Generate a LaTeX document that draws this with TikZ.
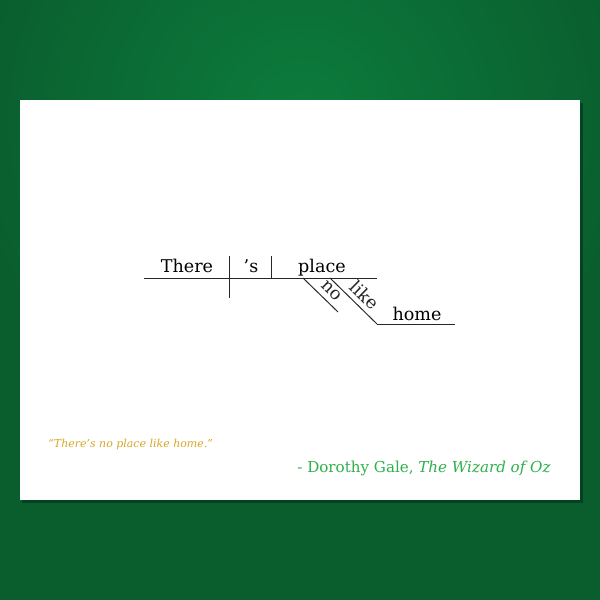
\documentclass[tikz,border=0pt]{standalone}
\usepackage{fontspec}
\setmainfont{DejaVu Serif}
\usetikzlibrary{positioning}

\definecolor{bgdark}{RGB}{10,94,46}
\definecolor{bglight}{RGB}{12,124,60}
\definecolor{quotegold}{RGB}{214,168,40}
\definecolor{authorgreen}{RGB}{46,176,76}

\begin{document}
\begin{tikzpicture}[
      x=0.02cm, y=0.02cm,
      word/.style ={inner sep=0pt, anchor=base, font=\fontsize{10}{12}\selectfont},
      slantword/.style ={inner sep=2.8pt, sloped, font=\fontsize{10}{12}\selectfont},
      rule/.style ={line width=0.55pt, black!85}]
    % background and card
    \useasboundingbox (0,0) rectangle (600,600);
    \begin{scope}
      \clip (0,0) rectangle (600,600);
      \fill[bgdark] (0,0) rectangle (600,600);
      \shade[inner color=bglight, outer color=bgdark] (300,480) circle [radius=330];
    \end{scope}
    \fill[black, opacity=0.3] (22,97) rectangle (583,497);
    \fill[white] (20,100) rectangle (580,500);

    % base line and dividers
    \coordinate (base west) at (144,322);
    \coordinate (base east) at (377,322);
    \coordinate (subj top) at (229,344);
    \coordinate (subj bottom) at (229,302);
    \coordinate (verb top) at (271,344);
    \coordinate (verb bottom) at (271,322);
    \draw[rule] (base west) -- (base east);
    \draw[rule] (subj top) -- (subj bottom);
    \draw[rule] (verb top) -- (verb bottom);

    \node[word] (there) at (187,328) {There};
    \node[word] (is) at (251,328) {’s};
    \node[word] (place) at (322,328) {place};

    % modifiers
    \coordinate (no start) at (303,322);
    \coordinate (no end) at (338,288);
    \coordinate (like start) at (330,322);
    \coordinate (like end) at (377,276);
    \coordinate (home end) at (455,276);
    \draw[rule] (no start) -- node[slantword, above, pos=0.6] (no) {no} (no end);
    \draw[rule] (like start) -- node[slantword, above, pos=0.56] (like) {like} (like end);
    \draw[rule] (like end) -- (home end);
    \node[word] (home) at (417,280) {home};

    % quote and author
    \node[anchor=base west, inner sep=0pt, text=quotegold,
          font=\fontsize{6.25}{7}\selectfont\itshape] (quote) at (48,153)
          {“There’s no place like home.”};
    \node[anchor=base east, inner sep=0pt, text=authorgreen,
          font=\fontsize{8.6}{10}\selectfont] (author) at (551,128)
          {- Dorothy Gale, \textit{The Wizard of Oz}};
    \end{tikzpicture}
\end{document}
